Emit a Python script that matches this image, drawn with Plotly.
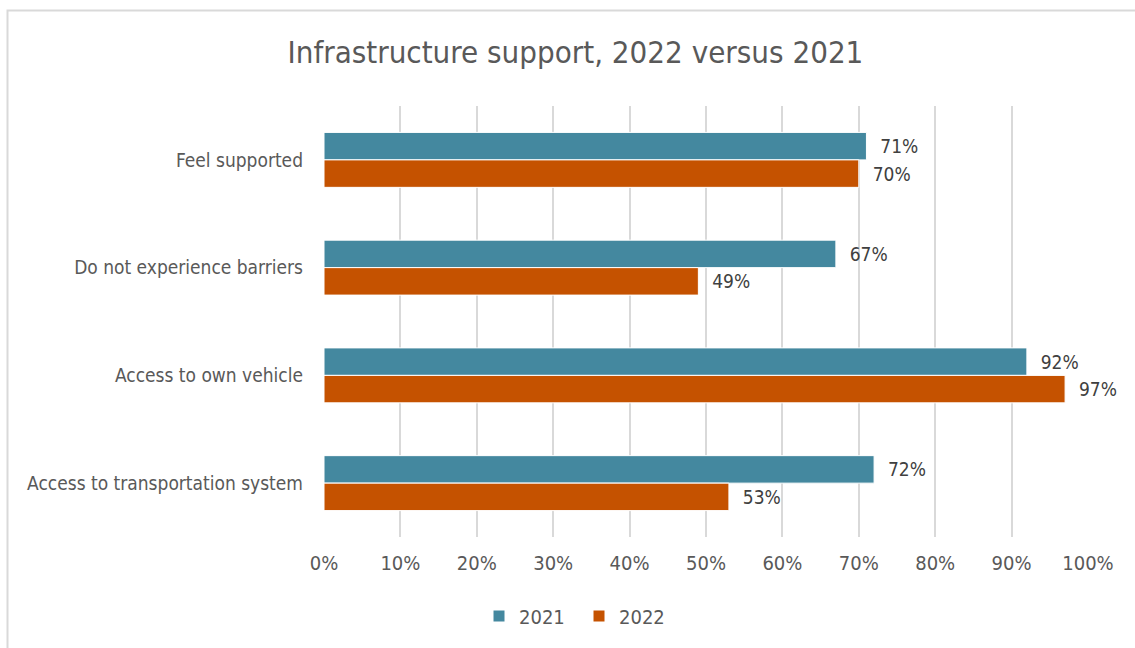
import plotly.graph_objects as go

# Survey categories, listed top to bottom
categories = [
    "Feel supported",
    "Do not experience barriers",
    "Access to own vehicle",
    "Access to transportation system",
]
values_2021 = [0.71, 0.67, 0.92, 0.72]
values_2022 = [0.70, 0.49, 0.97, 0.53]
x_ticks = [i / 10 for i in range(11)]
x_tick_labels = [f"{i * 10}%" for i in range(11)]

FONT = "DejaVu Sans Condensed, Liberation Sans Narrow, Arial Narrow, sans-serif"
TEXT_GREY = "#595959"
LABEL_GREY = "#404040"
GRID = "#d9d9d9"

W, H = 1135, 648
L, R, T, B = 324, 47, 106, 111
pw, ph = W - L - R, H - T - B


def px_to_paper_x(px):
    return (px - L) / pw


def px_to_paper_y(py):
    return (H - B - py) / ph


fig = go.Figure()
for name, vals, color in [
    ("2021", values_2021, "#44889f"),
    ("2022", values_2022, "#c55200"),
]:
    fig.add_trace(go.Bar(
        name=name,
        y=categories,
        x=vals,
        orientation="h",
        marker=dict(color=color, line=dict(color="white", width=1)),
        texttemplate="\u00a0\u00a0%{x:.0%}",
        textposition="outside",
        textfont=dict(family=FONT, size=19, color=LABEL_GREY),
        cliponaxis=False,
    ))

fig.update_layout(
    width=W,
    height=H,
    margin=dict(l=L, r=R, t=T, b=B),
    paper_bgcolor="white",
    plot_bgcolor="white",
    barmode="group",
    bargap=0.49,
    bargroupgap=0,
    font=dict(family=FONT, color=TEXT_GREY),
    title=dict(
        text="Infrastructure support, 2022 versus 2021",
        x=0.507, xanchor="center",
        y=1 - 52 / H, yanchor="middle",
        font=dict(family=FONT, size=31, color=TEXT_GREY),
    ),
    xaxis=dict(
        range=[0, 1],
        tickvals=x_ticks,
        ticktext=x_tick_labels,
        showgrid=True,
        gridcolor=GRID,
        gridwidth=2,
        zeroline=False,
        showline=False,
        ticks="",
        tickfont=dict(family=FONT, size=20, color=TEXT_GREY),
        ticklabelstandoff=12,
    ),
    yaxis=dict(
        autorange="reversed",
        showgrid=False,
        ticks="",
        showline=False,
        tickfont=dict(family=FONT, size=19, color=TEXT_GREY),
        ticklabelstandoff=20,
    ),
    legend=dict(
        orientation="h",
        x=px_to_paper_x(579), xanchor="center",
        y=px_to_paper_y(616), yanchor="middle",
        font=dict(family=FONT, size=20, color=TEXT_GREY),
        traceorder="normal",
        entrywidth=55,
        entrywidthmode="pixels",
        itemwidth=30,
    ),
    shapes=[dict(
        type="rect",
        xref="paper", yref="paper",
        x0=px_to_paper_x(7.5), x1=px_to_paper_x(W + 20),
        y0=px_to_paper_y(H + 20), y1=px_to_paper_y(10.5),
        line=dict(color=GRID, width=2),
        fillcolor="rgba(0,0,0,0)",
        layer="below",
    )],
)

fig.write_html("out.html")
